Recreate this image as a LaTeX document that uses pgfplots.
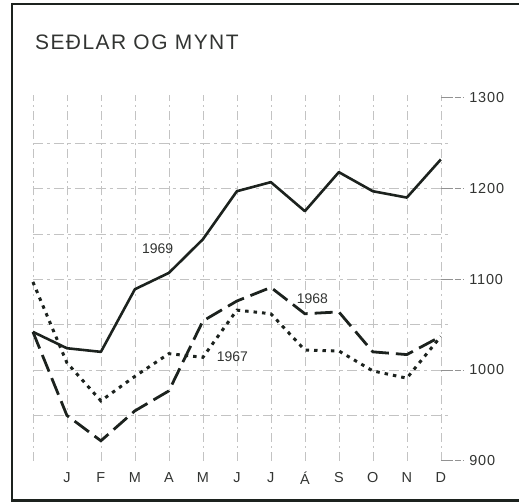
\documentclass[border=0pt]{standalone}
\usepackage{pgfplots}
\pgfplotsset{compat=1.18}
\usepackage{fontspec}
\setmainfont{Liberation Sans}
\newfontfamily\lab[LetterSpace=6]{Liberation Sans}
\newfontfamily\yr{Liberation Sans}
\newfontfamily\ttl[LetterSpace=7]{Liberation Sans}
\definecolor{ink}{RGB}{28,34,30}
\definecolor{txt}{RGB}{50,52,50}
\definecolor{grd}{RGB}{195,195,195}
\begin{document}
\begin{tikzpicture}[x=1pt,y=1pt]
\begin{axis}[
  scale only axis, width=409pt, height=364pt,
  xmin=0, xmax=12, ymin=900, ymax=1300,
  axis line style={draw=none},
  clip=false,
  xtick={1,...,12},
  xticklabels={J,F,M,A,M,J,J,Á,S,O,N,D},
  ytick={900,1000,...,1300},
  yticklabel pos=right,
  major tick length=0pt,
  tick style={draw=none},
  /pgf/number format/assume math mode=true,
  /pgf/number format/set thousands separator={},
  xticklabel style={font=\lab\fontsize{14.5}{16}\selectfont, text=txt, yshift=-8pt},
  yticklabel style={font=\lab\fontsize{14.5}{16}\selectfont, text=txt, anchor=west, xshift=25pt},
]
% grid
\pgfplotsinvokeforeach{0,...,12}{
  \draw[grd, line width=0.6pt, dash pattern=on 9pt off 4pt on 2pt off 4pt] (axis cs:#1,900) -- (axis cs:#1,1303);
}
\pgfplotsinvokeforeach{950,1000,...,1250}{
  \draw[grd, line width=0.6pt, dash pattern=on 10pt off 4pt on 3pt off 4pt] (axis cs:0,#1) -- (axis cs:12.3,#1);
}
\pgfplotsinvokeforeach{900,1000,...,1300}{
  \draw[grd!75!black, line width=0.7pt, dash pattern=on 12pt off 2pt on 6pt off 2pt] (axis cs:12,#1) -- (axis cs:12.68,#1);
}
% 1969
\addplot[ink, line width=2.6pt, line join=round] coordinates {
 (0,1042) (1,1024) (2,1020) (3,1089) (4,1107) (5,1144) (6,1197)
 (7,1207) (8,1175) (9,1218) (10,1197) (11,1190) (12,1232)};
% 1968
\addplot[ink, line width=2.8pt, dash pattern=on 18pt off 7pt] coordinates {
 (0,1042) (1,950) (2,922) (3,955) (4,977) (5,1054) (6,1076)
 (7,1091) (8,1062) (9,1064) (10,1020) (11,1017) (12,1037)};
% 1967
\addplot[ink, line width=3pt, dash pattern=on 3.5pt off 5pt] coordinates {
 (0,1097) (1,1008) (2,966) (3,993) (4,1018) (5,1014) (6,1066)
 (7,1062) (8,1022) (9,1021) (10,999) (11,991) (12,1037)};
\node[font=\yr\fontsize{14}{16}\selectfont, text=txt] at (axis cs:3.67,1134) {1969};
\node[font=\yr\fontsize{14}{16}\selectfont, text=txt] at (axis cs:8.22,1079) {1968};
\node[font=\yr\fontsize{14}{16}\selectfont, text=txt] at (axis cs:5.87,1015) {1967};
\end{axis}
% bounding box and frame (1pt = 1px of the reference; axis box SW at px (33,462))
\path (-33,-42) rectangle (487,462);
\draw[ink, line width=1.2pt] (-21,458) -- (487,458);
\draw[ink, line width=2.2pt] (-21,459) -- (-21,-40);
\draw[ink, line width=2.8pt] (-22,-40) -- (487,-40);
\node[anchor=base west, inner sep=0pt, font=\ttl\fontsize{21}{24}\selectfont, text=txt] at (2,412) {SEÐLAR OG MYNT};
\end{tikzpicture}
\end{document}
